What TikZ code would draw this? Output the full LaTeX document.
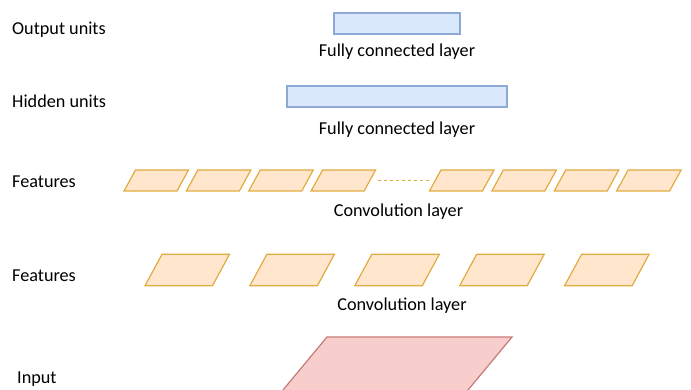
\documentclass[tikz,border=0pt]{standalone}
\usepackage{fontspec}
\setmainfont{Carlito}
\usetikzlibrary{positioning,shapes.geometric}

\definecolor{fcfill}{HTML}{DAE8FC}
\definecolor{fcdraw}{HTML}{8EA9D6}
\definecolor{convfill}{HTML}{FFE6CC}
\definecolor{convdraw}{HTML}{E0AC40}
\definecolor{infill}{HTML}{F8CECC}
\definecolor{indraw}{HTML}{C57A78}

\begin{document}
\begin{tikzpicture}[x=1pt, y=-1pt,
                    lbl/.style={font=\fontsize{18.2}{22}\selectfont, inner sep=0pt},
                    fcnode/.style={rectangle, draw=fcdraw, fill=fcfill, line width=1.2pt, minimum height=21pt, inner sep=0pt},
                    smallmap/.style={trapezium, trapezium left angle=61.3, trapezium right angle=118.7,
                                     draw=convdraw, fill=convfill, line width=1.2pt, inner xsep=20.75pt, inner ysep=10.5pt},
                    bigmap/.style={trapezium, trapezium left angle=61.6, trapezium right angle=118.4,
                                   draw=convdraw, fill=convfill, line width=1.2pt, inner xsep=25.25pt, inner ysep=15.75pt},
                    inmap/.style={trapezium, trapezium left angle=50.3, trapezium right angle=129.7,
                                  draw=indraw, fill=infill, line width=1.2pt, inner xsep=51pt, inner ysep=50pt},
                    dotline/.style={draw=convdraw, line width=1pt, dash pattern=on 3.5pt off 2.5pt, shorten <=7pt, shorten >=4.5pt}]
    \clip (0,0) rectangle (691,390);
    % left labels
    \node[lbl, anchor=base west] (outlbl)  at (12,34.5)  {Output units};
    \node[lbl, anchor=base west] (hidlbl)  at (12,107.5) {Hidden units};
    \node[lbl, anchor=base west] (featA)   at (12,187.5) {Features};
    \node[lbl, anchor=base west] (featB)   at (12,282)   {Features};
    \node[lbl, anchor=base west] (inlbl)   at (17,383)   {Input};
    % fully connected layers
    \node[fcnode, minimum width=126pt] (out) at (397,23.5) {};
    \node[lbl, below=21.5pt of out, anchor=base] (outtxt) {Fully connected layer};
    \node[fcnode, minimum width=220pt] (hid) at (397,96.5) {};
    \node[lbl, below=26.5pt of hid, anchor=base] (hidtxt) {Fully connected layer};
    % first convolution layer
    \node[smallmap] (c1) at (156.25,180.5) {};
    \node[smallmap] (c2) [right=8pt of c1] {};
    \node[smallmap] (c3) [right=8pt of c2] {};
    \node[smallmap] (c4) [right=8pt of c3] {};
    \node[smallmap] (c5) at (461.75,180.5) {};
    \node[smallmap] (c6) [right=8pt of c5] {};
    \node[smallmap] (c7) [right=8pt of c6] {};
    \node[smallmap] (c8) [right=8pt of c7] {};
    \draw[dotline] (c4) -- (c5);
    \node[lbl, anchor=base] (convAtxt) at (398.5,217) {Convolution layer};
    % second convolution layer
    \node[bigmap] (d1) at (187.25,270) {};
    \node[bigmap] (d2) [right=36pt of d1] {};
    \node[bigmap] (d3) [right=36pt of d2] {};
    \node[bigmap] (d4) [right=36pt of d3] {};
    \node[bigmap] (d5) [right=36pt of d4] {};
    \node[lbl, anchor=base] (convBtxt) at (402,310) {Convolution layer};
    % input
    \node[inmap] (img) at (378,387) {};
\end{tikzpicture}
\end{document}
